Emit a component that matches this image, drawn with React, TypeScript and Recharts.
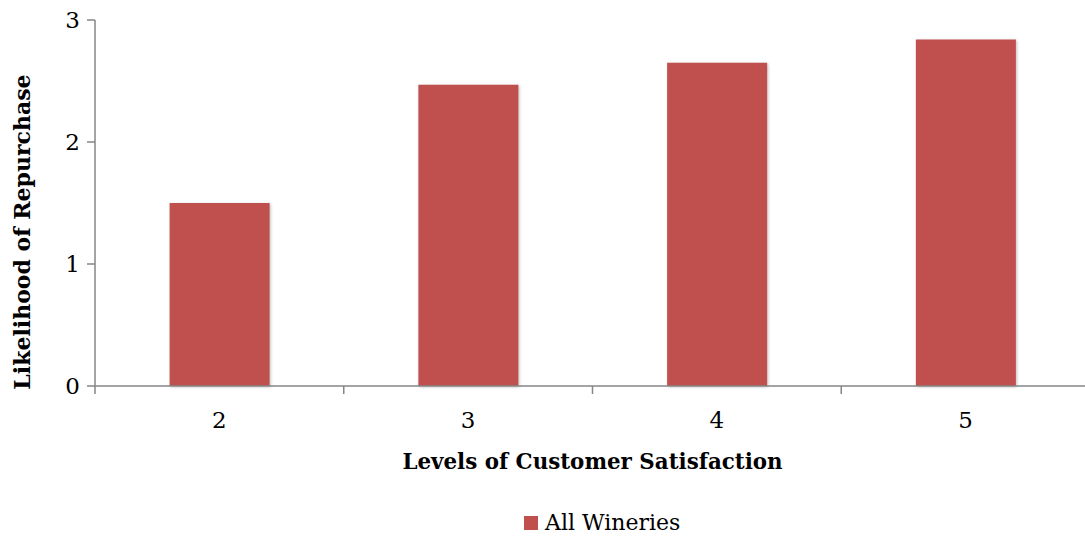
import React from "react";
import { BarChart, Bar, XAxis, YAxis, Legend } from "recharts";

const levels = ["2", "3", "4", "5"];
const allWineries = [1.5, 2.47, 2.65, 2.84];
const yTicks = [0, 1, 2, 3];
const seriesName = "All Wineries";
const xTitle = "Levels of Customer Satisfaction";
const yTitle = "Likelihood of Repurchase";

const data = levels.map((level, i) => ({ level, value: allWineries[i] }));

const FONT = '"DejaVu Serif", serif';
const AXIS = "#868686";
const BAR = "#C0504D";

const XTick = (props: any) => {
  const { x, y, payload, index, visibleTicksCount } = props;
  const off = payload.offset || 0;
  const isLast = index === visibleTicksCount - 1;
  return (
    <g>
      <line x1={x - off} x2={x - off} y1={y} y2={y + 8} stroke={AXIS} strokeWidth={1.5} />
      {isLast && <line x1={x + off} x2={x + off} y1={y} y2={y + 8} stroke={AXIS} strokeWidth={1.5} />}
      <text x={x} y={y + 42} textAnchor="middle" fontFamily={FONT} fontSize={23} fill="#000">
        {payload.value}
      </text>
    </g>
  );
};

export default function App() {
  return (
    <div style={{ position: "absolute", left: 0, top: 0, width: 1085, height: 537, overflow: "hidden", background: "#fff" }}>
      <BarChart
        width={1095}
        height={537}
        data={data}
        margin={{ top: 20, right: 5, bottom: 91, left: 0 }}
        barCategoryGap="30%"
      >
        <XAxis
          dataKey="level"
          height={60}
          axisLine={{ stroke: AXIS, strokeWidth: 1.5 }}
          tickLine={false}
          tickSize={0}
          tickMargin={0}
          interval={0}
          tick={<XTick />}
          label={{
            content: ({ viewBox }: any) => (
              <text
                x={viewBox.x + viewBox.width / 2}
                y={469}
                textAnchor="middle"
                fontFamily={FONT}
                fontWeight="bold"
                fontSize={21.4}
                fill="#000"
              >
                {xTitle}
              </text>
            ),
          }}
        />
        <YAxis
          width={95}
          domain={[0, 3]}
          ticks={yTicks}
          interval={0}
          tickSize={8}
          tickMargin={7}
          axisLine={{ stroke: AXIS, strokeWidth: 1.5 }}
          tickLine={{ stroke: AXIS, strokeWidth: 1.5 }}
          tick={{ fill: "#000", fontFamily: FONT, fontSize: 23 }}
          label={{
            content: () => (
              <text
                transform="translate(30,232) rotate(-90)"
                textAnchor="middle"
                fontFamily={FONT}
                fontWeight="bold"
                fontSize={22}
                fill="#000"
              >
                {yTitle}
              </text>
            ),
          }}
        />
        <Legend
          layout="horizontal"
          verticalAlign="middle"
          align="center"
          wrapperStyle={{ top: 509, left: 524, width: "auto" }}
          content={({ payload }: any) => (
            <div style={{ display: "flex", alignItems: "center", fontFamily: FONT, fontSize: 22, color: "#000", lineHeight: "28px" }}>
              {(payload || []).map((p: any) => (
                <div key={p.value} style={{ display: "flex", alignItems: "center" }}>
                  <svg width={14} height={14} style={{ marginRight: 7 }}>
                    <rect width={14} height={14} fill={p.color} />
                  </svg>
                  <span>{p.value}</span>
                </div>
              ))}
            </div>
          )}
        />
        <Bar
          dataKey="value"
          name={seriesName}
          fill={BAR}
          isAnimationActive={false}
          style={{ filter: "drop-shadow(1.5px 1.5px 1.5px rgba(0,0,0,0.25))" }}
        />
      </BarChart>
    </div>
  );
}
